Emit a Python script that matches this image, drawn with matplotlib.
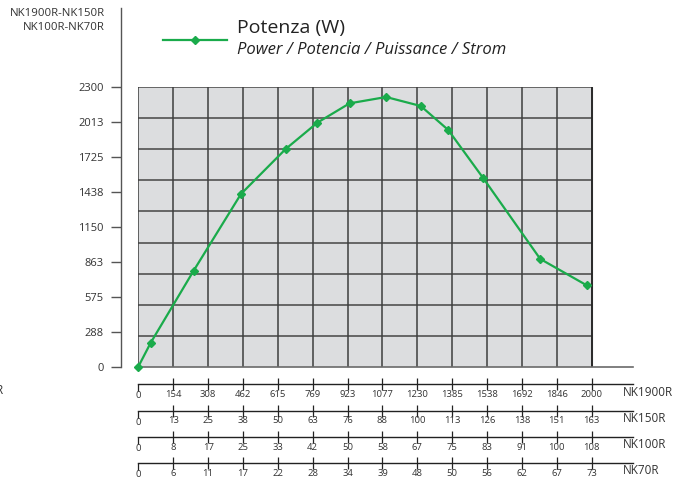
import numpy as np
import matplotlib
matplotlib.use("Agg")
import matplotlib.pyplot as plt
from matplotlib.lines import Line2D

plt.rcParams['font.family'] = ['Open Sans', 'DejaVu Sans']

# ---------------- data ----------------
models = ["NK1900R", "NK150R", "NK100R", "NK70R"]
scale_1900 = ["0", "154", "308", "462", "615", "769", "923", "1077", "1230", "1385", "1538", "1692", "1846", "2000"]
scale_150 = ["0", "13", "25", "38", "50", "63", "76", "88", "100", "113", "126", "138", "151", "163"]
scale_100 = ["0", "8", "17", "25", "33", "42", "50", "58", "67", "75", "83", "91", "100", "108"]
scale_70 = ["0", "6", "11", "17", "22", "28", "34", "39", "48", "50", "56", "62", "67", "73"]
y_ticks = [0, 288, 575, 863, 1150, 1438, 1725, 2013, 2300]

# power curve on the NK1900R scale
flow = [0, 55, 244, 453, 650, 790, 932, 1093, 1246, 1367, 1522, 1773, 1978]
power = [0, 198, 790, 1422, 1792, 2009, 2168, 2220, 2146, 1949, 1551, 887, 670]

x_max = 2000
n_cols = 13
n_rows = 9

# ---------------- layout helpers (pixels) ----------------
W, H = 688, 479
def fx(px): return px / W
def fy(py): return 1 - py / H

PLOT_L, PLOT_R, PLOT_T, PLOT_B = 138.3, 591.7, 87.3, 366.7
LINE_R = 633
YAX_X, YAX_TOP = 120.5, 8
x_hi = (LINE_R - PLOT_L) * x_max / (PLOT_R - PLOT_L)

green = "#1aab4b"
txt = "#333333"

fig = plt.figure(figsize=(6.88, 4.79), dpi=100)

# ---------------- main plot ----------------
ax = fig.add_axes([fx(PLOT_L), fy(PLOT_B), (LINE_R - PLOT_L) / W, (PLOT_B - PLOT_T) / H])
ax.set_xlim(0, x_hi)
ax.set_ylim(0, y_ticks[-1])
ax.axvspan(0, x_max, color="#dcdddf", zorder=0)
col_x = np.arange(n_cols + 1) * x_max / n_cols
row_y = np.linspace(0, y_ticks[-1], n_rows + 1)
ax.hlines(row_y[1:], 0, x_max, color="#5c5c5c", lw=1.3, zorder=1)
ax.vlines(col_x, 0, y_ticks[-1], color="#3e3e3e", lw=1.1, zorder=1)
ax.vlines([x_max], 0, y_ticks[-1], color="#222222", lw=1.2, zorder=1)
for s in ["top", "right", "left"]:
    ax.spines[s].set_visible(False)
ax.spines["bottom"].set_color("#6a6a6a")
ax.spines["bottom"].set_linewidth(1.2)
ax.set_xticks([])
ax.set_yticks([])
ax.plot(flow, power, color=green, lw=1.6, marker="D", ms=4, zorder=3, clip_on=False)

# ---------------- y axis ----------------
ay = fig.add_axes([fx(YAX_X), fy(PLOT_B), 1 / W, (PLOT_B - YAX_TOP) / H])
ay.set_ylim(0, y_ticks[-1] * (PLOT_B - YAX_TOP) / (PLOT_B - PLOT_T))
ay.set_xticks([])
ay.set_yticks(y_ticks, [str(v) for v in y_ticks])
for s in ["top", "right", "bottom"]:
    ay.spines[s].set_visible(False)
ay.spines["left"].set_color("#555555")
ay.spines["left"].set_linewidth(1.0)
ay.patch.set_visible(False)
ay.tick_params(axis="y", direction="out", length=7, width=1.0, color="#555555",
               labelsize=8, labelcolor=txt, pad=5)

# ---------------- bottom scales ----------------
scales = [scale_1900, scale_150, scale_100, scale_70]
line_y = [384, 410.5, 437, 463]
for name, labels, ly in zip(models, scales, line_y):
    b = fig.add_axes([fx(PLOT_L), fy(ly), (LINE_R - PLOT_L) / W, 0.5 / H])
    b.set_xlim(0, x_hi)
    b.set_yticks([])
    b.patch.set_visible(False)
    for s in ["top", "right", "left"]:
        b.spines[s].set_visible(False)
    b.spines["bottom"].set_color("#222222")
    b.spines["bottom"].set_linewidth(1.0)
    b.set_xticks(col_x[1:], labels[1:])
    b.set_xticks(col_x[:1], labels[:1], minor=True)
    b.tick_params(axis="x", which="major", direction="inout", length=8, width=0.9,
                  color="#222222", labelsize=6.8, labelcolor=txt, pad=0)
    b.tick_params(axis="x", which="minor", direction="out", length=5, width=0.9,
                  color="#222222", labelsize=6.8, labelcolor=txt, pad=0.3)
    fig.text(fx(623), fy(ly + 8), name, ha="left", va="center", fontsize=8.5, color=txt)

# clipped label at left edge
fig.text(fx(4), fy(391), models[0], ha="right", va="center", fontsize=8.5, color=txt)

# ---------------- header texts ----------------
fig.text(fx(105), fy(14), "NK1900R-NK150R", ha="right", va="center", fontsize=8.2, color=txt)
fig.text(fx(105), fy(28), "NK100R-NK70R", ha="right", va="center", fontsize=8.2, color=txt)

fig.text(fx(237), fy(33), "Potenza (W)", ha="left", va="baseline", fontsize=14, color="#222222")
fig.text(fx(237), fy(54), "Power / Potencia / Puissance / Strom", ha="left", va="baseline",
         fontsize=12, style="italic", color="#222222")

handle = Line2D([], [], color=green, lw=1.6, marker="D", ms=4)
fig.legend([handle], [""], loc="center left", bbox_to_anchor=(fx(163), fy(41.7)),
           frameon=False, borderpad=0, borderaxespad=0, handlelength=64 / 13.9,
           handletextpad=0, fontsize=10, numpoints=1)

fig.savefig("out.png", dpi=100)
